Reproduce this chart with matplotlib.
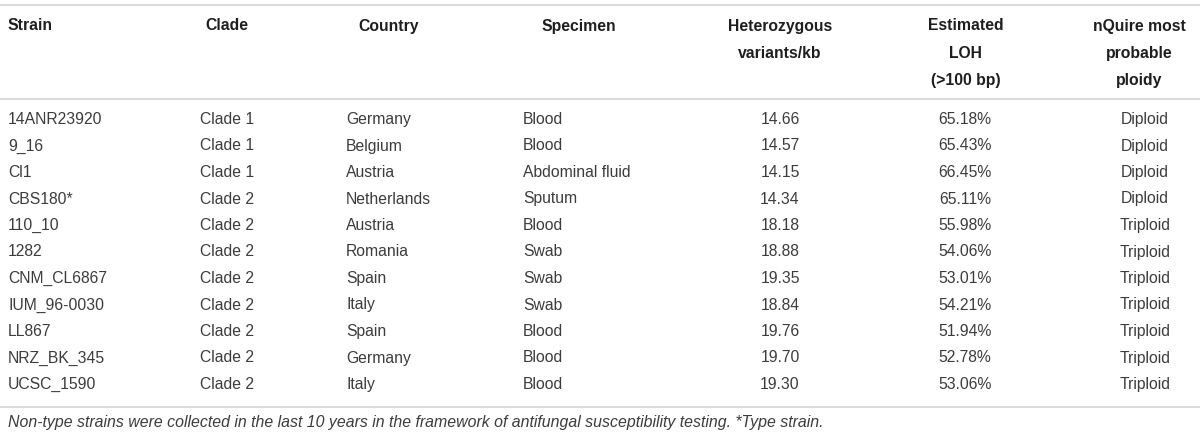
import matplotlib.pyplot as plt

plt.rcParams['font.family'] = ['Liberation Sans', 'DejaVu Sans']

# Table content
headers = [
    ['Strain'],
    ['Clade'],
    ['Country'],
    ['Specimen'],
    ['Heterozygous', 'variants/kb'],
    ['Estimated', 'LOH', '(>100 bp)'],
    ['nQuire most', 'probable', 'ploidy'],
]
strains = ['14ANR23920', '9_16', 'Cl1', 'CBS180*', '110_10', '1282',
           'CNM_CL6867', 'IUM_96-0030', 'LL867', 'NRZ_BK_345', 'UCSC_1590']
clades = ['Clade 1', 'Clade 1', 'Clade 1', 'Clade 2', 'Clade 2', 'Clade 2',
          'Clade 2', 'Clade 2', 'Clade 2', 'Clade 2', 'Clade 2']
countries = ['Germany', 'Belgium', 'Austria', 'Netherlands', 'Austria', 'Romania',
             'Spain', 'Italy', 'Spain', 'Germany', 'Italy']
specimens = ['Blood', 'Blood', 'Abdominal fluid', 'Sputum', 'Blood', 'Swab',
             'Swab', 'Swab', 'Blood', 'Blood', 'Blood']
het_per_kb = [14.66, 14.57, 14.15, 14.34, 18.18, 18.88, 19.35, 18.84, 19.76, 19.70, 19.30]
loh_pct = [65.18, 65.43, 66.45, 65.11, 55.98, 54.06, 53.01, 54.21, 51.94, 52.78, 53.06]
ploidy = ['Diploid', 'Diploid', 'Diploid', 'Diploid', 'Triploid', 'Triploid',
          'Triploid', 'Triploid', 'Triploid', 'Triploid', 'Triploid']
footnote = ('Non-type strains were collected in the last 10 years in the framework '
            'of antifungal susceptibility testing. *Type strain.')

# layout (pixel units)
data_x = [8, 200, 346, 523, 780, 965, 1145]
head_x = [8, 205, 358, 542, 780, 966, 1139]
aligns = ['left', 'left', 'left', 'left', 'center', 'center', 'center']
head_y0, head_dy = 26, 27.5
row_y0, row_dy = 119.5, 26.5

fig = plt.figure(figsize=(12, 4.38), dpi=100)
ax = fig.add_axes([0, 0, 1, 1])
ax.set_xlim(0, 1200)
ax.set_ylim(438, 0)
ax.axis('off')

line_c = '#d4d4d4'
ax.axhline(5, color=line_c, lw=1.2)
ax.axhline(98.5, color=line_c, lw=1.2)
ax.axhline(406.5, color=line_c, lw=1.2)

for x, al, lines in zip(head_x, aligns, headers):
    for j, txt in enumerate(lines):
        ax.text(x, head_y0 + j * head_dy, txt, ha=al, va='center',
                fontsize=11.3, fontweight='bold', color='#1e1e1e')

columns = [strains, clades, countries, specimens,
           [f'{v:.2f}' for v in het_per_kb],
           [f'{v:.2f}%' for v in loh_pct], ploidy]
for x, al, col in zip(data_x, aligns, columns):
    for i, txt in enumerate(col):
        ax.text(x, row_y0 + i * row_dy, txt, ha=al, va='center',
                fontsize=11.3, color='#3c3c3c')

ax.text(8, 423, footnote, ha='left', va='center', fontsize=11.4,
        style='italic', color='#3c3c3c')

fig.savefig('out.png', dpi=100)
